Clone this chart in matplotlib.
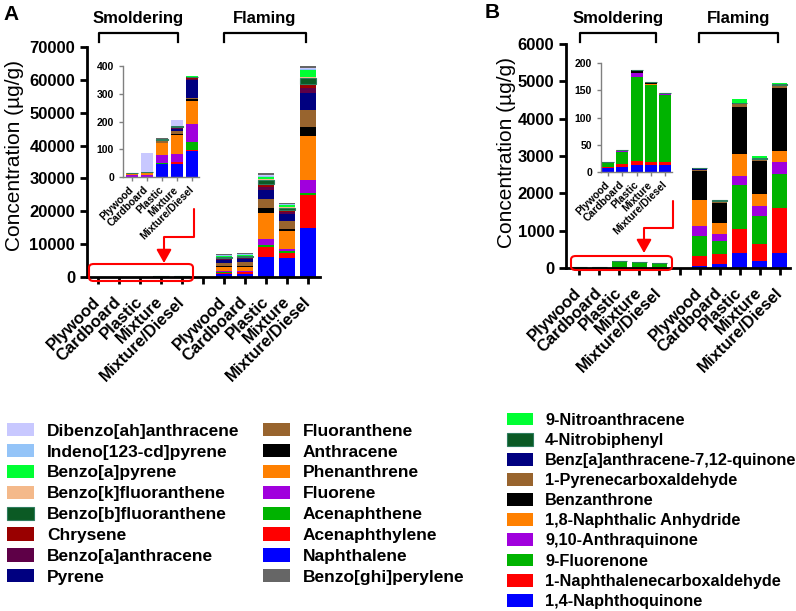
import matplotlib
matplotlib.use('Agg')
import matplotlib.pyplot as plt
from matplotlib.patches import FancyBboxPatch, FancyArrowPatch
from matplotlib.lines import Line2D
from matplotlib.path import Path
import numpy as np

plt.rcParams['font.family'] = ['Liberation Sans', 'DejaVu Sans']
plt.rcParams['font.weight'] = 'bold'

# ---- data -----------------------------------------------------------------
materials = ['Plywood', 'Cardboard', 'Plastic', 'Mixture', 'Mixture/Diesel']

# PAHs, stacked bottom -> top
pah_names = ['Naphthalene', 'Acenaphthylene', 'Acenaphthene', 'Fluorene',
             'Phenanthrene', 'Anthracene', 'Fluoranthene', 'Pyrene',
             'Benzo[a]anthracene', 'Chrysene', 'Benzo[b]fluoranthene',
             'Benzo[k]fluoranthene', 'Benzo[a]pyrene', 'Indeno[123-cd]pyrene',
             'Dibenzo[ah]anthracene', 'Benzo[ghi]perylene']
pah_smolder = [
    [1, 1, 47, 48, 94],
    [0.3, 0.3, 1, 5, 3],
    [0.3, 0.3, 4, 1, 28],
    [7, 5, 28, 28, 67],
    [5, 9, 42, 68, 82],
    [0.3, 0.5, 2, 4, 6],
    [0.3, 0.5, 4, 10, 6],
    [0.2, 0.3, 3, 8, 65],
    [0.1, 0.2, 1, 3, 2],
    [0.1, 0.2, 2, 5, 6],
    [0.1, 0.2, 2, 2, 2],
    [0.1, 0.1, 0.5, 1, 1],
    [0.1, 0.1, 1, 1, 1],
    [0.1, 0.1, 0.5, 1, 1],
    [0.1, 70, 0.5, 20, 1],
    [0, 0, 0.5, 1, 0.5],
]
pah_flaming = [
    [800, 900, 6000, 5700, 14900],
    [500, 500, 3200, 1700, 10000],
    [200, 200, 500, 400, 600],
    [300, 300, 1800, 800, 3900],
    [1200, 1100, 7900, 5400, 13400],
    [300, 500, 1500, 700, 3000],
    [1000, 1100, 2700, 2200, 5100],
    [1000, 1000, 2900, 2400, 5100],
    [200, 200, 1000, 500, 1600],
    [300, 300, 700, 600, 1200],
    [300, 300, 1300, 700, 1900],
    [100, 100, 300, 200, 300],
    [200, 300, 500, 600, 1900],
    [200, 100, 300, 200, 400],
    [100, 100, 500, 200, 400],
    [300, 200, 500, 200, 500],
]

# oxy/nitro-PAHs, stacked bottom -> top
oxy_names = ['1,4-Naphthoquinone', '1-Naphthalenecarboxaldehyde', '9-Fluorenone',
             '9,10-Anthraquinone', '1,8-Naphthalic Anhydride', 'Benzanthrone',
             '1-Pyrenecarboxaldehyde', 'Benz[a]anthracene-7,12-quinone',
             '4-Nitrobiphenyl', '9-Nitroanthracene']
oxy_smolder = [
    [8, 10, 12, 12, 13],
    [0.5, 4, 8, 7, 6],
    [9, 22, 155, 141, 122],
    [0.3, 3, 7, 0.5, 3],
    [0.2, 0.5, 0.5, 0.5, 0.5],
    [0.2, 0.3, 4, 3, 0.5],
    [0, 0.2, 0.5, 0.5, 0.3],
    [0, 0.1, 0.5, 0.3, 0.2],
    [0, 0, 0, 0, 0],
    [0, 0, 0.3, 0.2, 0],
]
oxy_flaming = [
    [60, 100, 390, 200, 400],
    [260, 285, 650, 450, 1220],
    [540, 340, 1180, 740, 910],
    [270, 197, 250, 270, 300],
    [690, 278, 580, 330, 310],
    [770, 528, 1270, 870, 1675],
    [40, 40, 70, 40, 60],
    [40, 30, 30, 30, 30],
    [5, 20, 10, 20, 20],
    [10, 10, 110, 60, 40],
]

pah_colors = ['#0000FF', '#FF0000', '#00B300', '#A000DD', '#FF8000', '#000000',
              '#98642E', '#000080', '#5E0047', '#990000', '#0B5A24', '#F4B98A',
              '#00FF33', '#94C4F8', '#C8C8FF', '#666666']
oxy_colors = ['#0000FF', '#FF0000', '#00B300', '#A000DD', '#FF8000', '#000000',
              '#98642E', '#000080', '#0B5A24', '#00FF33']
dark_green = '#0B5A24'

W, H = 796, 611


def fx(x):
    return x / W


def fy(y):
    return 1 - y / H


def px_axes(fig, x0, y0, x1, y1):
    return fig.add_axes([fx(x0), fy(y1), fx(x1) - fx(x0), fy(y0) - fy(y1)])


def stack(ax, pos, table, colors, width):
    bottom = np.zeros(len(pos))
    bars = []
    for vals, c in zip(table, colors):
        vals = np.asarray(vals, float)
        ec = '#2E7D5E' if c == dark_green else c
        b = ax.bar(pos, vals, width, bottom=bottom, color=c, edgecolor=ec,
                   linewidth=0.8 if c == dark_green else 0)
        bottom += vals
        bars.append(b)
    return bars


def style_main(ax, ymax, step, xlim):
    ax.set_xlim(*xlim)
    ax.set_ylim(0, ymax)
    ax.set_yticks(np.arange(0, ymax + 1, step))
    ax.set_xticks(range(11))
    ax.set_xticklabels(materials + [''] + materials, rotation=45, ha='right',
                       va='center', rotation_mode='anchor', fontsize=13,
                       fontweight='bold')
    for s in ['top', 'right']:
        ax.spines[s].set_visible(False)
    for s in ['left', 'bottom']:
        ax.spines[s].set_linewidth(2)
    ax.tick_params(width=2, length=5, labelsize=12)
    ax.tick_params(axis='x', pad=11)


def style_inset(ax, ymax, step, xlim):
    ax.set_facecolor('none')
    ax.set_xlim(*xlim)
    ax.set_ylim(0, ymax)
    ax.set_yticks(np.arange(0, ymax + 1, step))
    ax.set_xticks(range(5))
    ax.set_xticklabels(materials, rotation=45, ha='right', va='center',
                       rotation_mode='anchor', fontsize=7.5, fontweight='bold')
    for s in ['top', 'right']:
        ax.spines[s].set_visible(False)
    for s in ['left', 'bottom']:
        ax.spines[s].set_linewidth(1)
        ax.spines[s].set_color('#808080')
    ax.tick_params(width=1, length=3, labelsize=7.5, color='#808080')
    ax.tick_params(axis='x', pad=5)


def bracket(fig, x0, x1, y, text):
    fig.add_artist(Line2D([fx(x0), fx(x0), fx(x1), fx(x1)],
                          [fy(y + 9), fy(y), fy(y), fy(y + 9)],
                          transform=fig.transFigure, color='black', lw=1.6))
    fig.text(fx((x0 + x1) / 2), fy(18), text, ha='center', va='center',
             fontsize=12, fontweight='bold')


def zoom_marker(fig, box, arrow):
    x0, y0, x1, y1 = box
    fig.add_artist(FancyBboxPatch((fx(x0), fy(y1)), fx(x1) - fx(x0), fy(y0) - fy(y1),
                                  boxstyle='round,pad=0,rounding_size=0.006',
                                  transform=fig.transFigure, fill=False,
                                  ec='#FF0000', lw=1.5))
    verts = [(fx(x), fy(y)) for x, y in arrow]
    codes = [Path.MOVETO] + [Path.LINETO] * (len(verts) - 1)
    fig.add_artist(FancyArrowPatch(path=Path(verts, codes),
                                   arrowstyle='-|>,head_length=8,head_width=4.5',
                                   transform=fig.transFigure, color='#FF0000',
                                   lw=1.5))


fig = plt.figure(figsize=(W / 100, H / 100), dpi=100)

smold_pos = np.arange(5)
flame_pos = np.arange(6, 11)
all_pos = np.concatenate([smold_pos, flame_pos])

# ---- panel A: PAHs --------------------------------------------------------
axA = px_axes(fig, 87, 47, 320, 277)
pah_all = [list(s) + list(f) for s, f in zip(pah_smolder, pah_flaming)]
pah_bars = stack(axA, all_pos, pah_all, pah_colors, 0.75)
style_main(axA, 70000, 10000, (-0.52, 10.57))

insA = px_axes(fig, 123, 66, 199, 177)
stack(insA, smold_pos, pah_smolder, pah_colors, 0.8)
style_inset(insA, 400, 100, (-0.6, 4.47))

bracket(fig, 99, 178, 33, 'Smoldering')
bracket(fig, 224, 306, 33, 'Flaming')
zoom_marker(fig, (89, 264, 193, 281), [(194, 209), (194, 237), (164, 237), (164, 263)])
fig.text(fx(15), fy(155), 'Concentration (µg/g)', rotation=90, ha='center',
         va='center', fontsize=15, fontweight='normal')
fig.text(fx(3), fy(14), 'A', fontsize=15, fontweight='bold', ha='left', va='center')

# ---- panel B: oxy/nitro-PAHs ---------------------------------------------
axB = px_axes(fig, 566, 44, 790, 268)
oxy_all = [list(s) + list(f) for s, f in zip(oxy_smolder, oxy_flaming)]
oxy_bars = stack(axB, all_pos, oxy_all, oxy_colors, 0.75)
style_main(axB, 6000, 1000, (-0.65, 10.5))

insB = px_axes(fig, 601, 63, 672, 172)
stack(insB, smold_pos, oxy_smolder, oxy_colors, 0.82)
style_inset(insB, 200, 50, (-0.49, 4.47))

bracket(fig, 580, 656, 33, 'Smoldering')
bracket(fig, 699, 778, 33, 'Flaming')
zoom_marker(fig, (571, 256, 672, 270), [(673, 201), (673, 228), (644, 228), (644, 253)])
fig.text(fx(507), fy(153), 'Concentration (µg/g)', rotation=90, ha='center',
         va='center', fontsize=15, fontweight='normal')
fig.text(fx(485), fy(12), 'B', fontsize=15, fontweight='bold', ha='left', va='center')

# ---- legends --------------------------------------------------------------
leg_kw = dict(loc='upper left', frameon=False, borderpad=0, borderaxespad=0)
col1 = [14, 13, 12, 11, 10, 9, 8, 7]
col2 = [6, 5, 4, 3, 2, 1, 0, 15]
ab_kw = dict(prop={'weight': 'bold', 'size': 12.5}, handlelength=1.55,
             handleheight=0.8, handletextpad=0.75, labelspacing=0.30)
fig.legend([pah_bars[i] for i in col1], [pah_names[i] for i in col1],
           bbox_to_anchor=(fx(7), fy(423)), **leg_kw, **ab_kw)
fig.legend([pah_bars[i] for i in col2], [pah_names[i] for i in col2],
           bbox_to_anchor=(fx(263), fy(423)), **leg_kw, **ab_kw)
col3 = list(range(9, -1, -1))
fig.legend([oxy_bars[i] for i in col3], [oxy_names[i] for i in col3],
           bbox_to_anchor=(fx(507), fy(412.5)), prop={'weight': 'bold', 'size': 11.7},
           handlelength=1.6, handleheight=0.85, handletextpad=0.75,
           labelspacing=0.31, **leg_kw)

fig.savefig('out.png', dpi=100)
